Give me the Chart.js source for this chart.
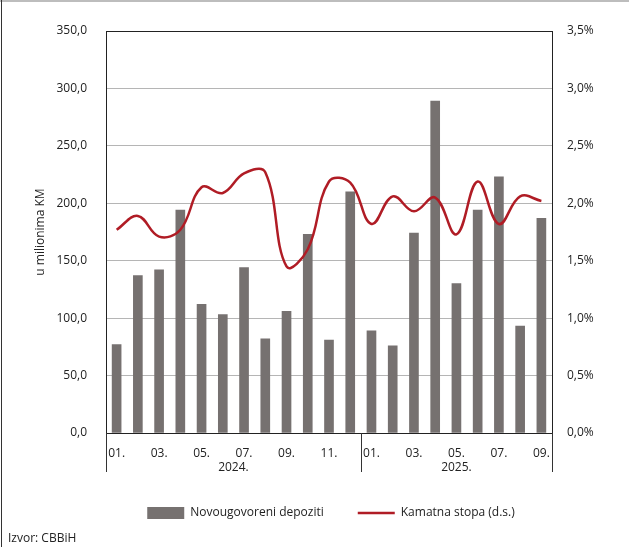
<!DOCTYPE html>
<html>
<head>
<meta charset="utf-8">
<script src="https://cdn.jsdelivr.net/npm/chart.js@4.4.1/dist/chart.umd.min.js"></script>
<style>
  html, body { margin: 0; padding: 0; background: #fff; }
  #wrap { position: relative; width: 629px; height: 547px; }
  #source {
    position: absolute; left: 8px; top: 529px;
    font: 12px "Open Sans", sans-serif; color: #222;
  }
</style>
</head>
<body>
<div id="wrap">
  <canvas id="chart" width="629" height="547"></canvas>
  <div id="source">Izvor: CBBiH</div>
</div>
<script>
// months (2024: 01-12, 2025: 01-09)
const months = ["01.", "02.", "03.", "04.", "05.", "06.", "07.", "08.", "09.", "10.", "11.", "12.",
                "01.", "02.", "03.", "04.", "05.", "06.", "07.", "08.", "09."];
const years = [{ label: "2024.", from: 0, to: 11 }, { label: "2025.", from: 12, to: 20 }];

// new deposits, mil. KM
const deposits = [77, 137, 142, 194, 112, 103, 144, 82, 106, 173, 81, 210,
                  89, 76, 174, 289, 130, 194, 223, 93, 187];
// interest rate, % (right axis)
const rate = [1.77, 1.89, 1.71, 1.77, 2.14, 2.09, 2.26, 2.27, 1.45, 1.60, 2.19, 2.18,
              1.82, 2.06, 1.93, 2.05, 1.73, 2.19, 1.82, 2.06, 2.02];

const fontFamily = '"Open Sans", sans-serif';
const comma = (v) => v.toFixed(1).replace(".", ",");

// frame of the figure + year labels under the x axis
const decor = {
  id: "decor",
  beforeDraw(chart) {
    const ctx = chart.ctx;
    ctx.save();
    ctx.fillStyle = "#fff";
    ctx.fillRect(0, 0, chart.width, chart.height);
    ctx.fillStyle = "#bdbdbd";
    ctx.fillRect(0, 0, chart.width, 2);
    ctx.fillStyle = "#333";
    ctx.fillRect(1, 0, 1, chart.height);
    ctx.restore();
  },
  afterDraw(chart) {
    const ctx = chart.ctx;
    const x = chart.scales.x;
    const area = chart.chartArea;
    const half = (x.getPixelForValue(1) - x.getPixelForValue(0)) / 2;
    ctx.save();
    ctx.strokeStyle = "#333";
    ctx.lineWidth = 1;
    const seps = [area.left, x.getPixelForValue(11) + half, area.right];
    seps.forEach((px) => {
      ctx.beginPath();
      ctx.moveTo(Math.round(px) + 0.5, area.bottom);
      ctx.lineTo(Math.round(px) + 0.5, area.bottom + 39);
      ctx.stroke();
    });
    ctx.fillStyle = "#222";
    ctx.font = "12px " + fontFamily;
    ctx.textAlign = "center";
    ctx.textBaseline = "middle";
    years.forEach((y) => {
      const cx = (x.getPixelForValue(y.from) - half + x.getPixelForValue(y.to) + half) / 2;
      ctx.fillText(y.label, cx, area.bottom + 35);
    });
    ctx.restore();
  }
};

new Chart(document.getElementById("chart"), {
  data: {
    labels: months,
    datasets: [
      {
        type: "line",
        label: "Kamatna stopa (d.s.)",
        data: rate,
        yAxisID: "y1",
        borderColor: "#b01c25",
        backgroundColor: "#b01c25",
        borderWidth: 2.5,
        tension: 0.4,
        pointRadius: 0,
        pointStyle: "line",
        order: 0
      },
      {
        type: "bar",
        label: "Novougovoreni depoziti",
        data: deposits,
        yAxisID: "y",
        backgroundColor: "#767170",
        barThickness: 9,
        pointStyle: "rect",
        order: 1
      }
    ]
  },
  options: {
    responsive: false,
    animation: false,
    layout: { padding: { left: 33, top: 31, right: 0, bottom: 18 } },
    plugins: {
      tooltip: { enabled: false },
      legend: {
        position: "bottom",
        reverse: true,
        labels: {
          usePointStyle: true,
          pointStyleWidth: 37,
          boxHeight: 15,
          padding: 34,
          color: "#222",
          font: { family: fontFamily, size: 12 }
        }
      }
    },
    scales: {
      x: {
        grid: { display: false, drawTicks: false },
        border: { color: "#222", width: 1 },
        ticks: {
          autoSkip: false,
          maxRotation: 0,
          padding: 13,
          color: "#222",
          font: { family: fontFamily, size: 12 },
          callback: (v, i) => (i % 2 === 0 ? months[i] : "")
        },
        afterFit: (s) => { s.height = 40; }
      },
      y: {
        position: "left",
        min: 0,
        max: 350,
        grid: {
          drawTicks: false,
          color: (c) => (c.tick.value === 350 ? "#222" : (c.tick.value === 0 ? "rgba(0,0,0,0)" : "#b5b5b5")),
          lineWidth: 1
        },
        border: { color: "#222", width: 1 },
        ticks: {
          stepSize: 50,
          padding: 19,
          color: "#222",
          font: { family: fontFamily, size: 12 },
          callback: (v) => comma(v)
        },
        title: {
          display: true,
          text: "u milionima KM",
          color: "#222",
          font: { family: fontFamily, size: 12 },
          padding: 0
        },
        afterFit: (s) => { s.width = 73; }
      },
      y1: {
        position: "right",
        min: 0,
        max: 3.5,
        grid: { display: false, drawTicks: false },
        border: { color: "#222", width: 1 },
        ticks: {
          stepSize: 0.5,
          padding: 15,
          color: "#222",
          font: { family: fontFamily, size: 12 },
          callback: (v) => comma(v) + "%"
        },
        afterFit: (s) => { s.width = 77; }
      }
    }
  },
  plugins: [decor]
});
</script>
</body>
</html>
